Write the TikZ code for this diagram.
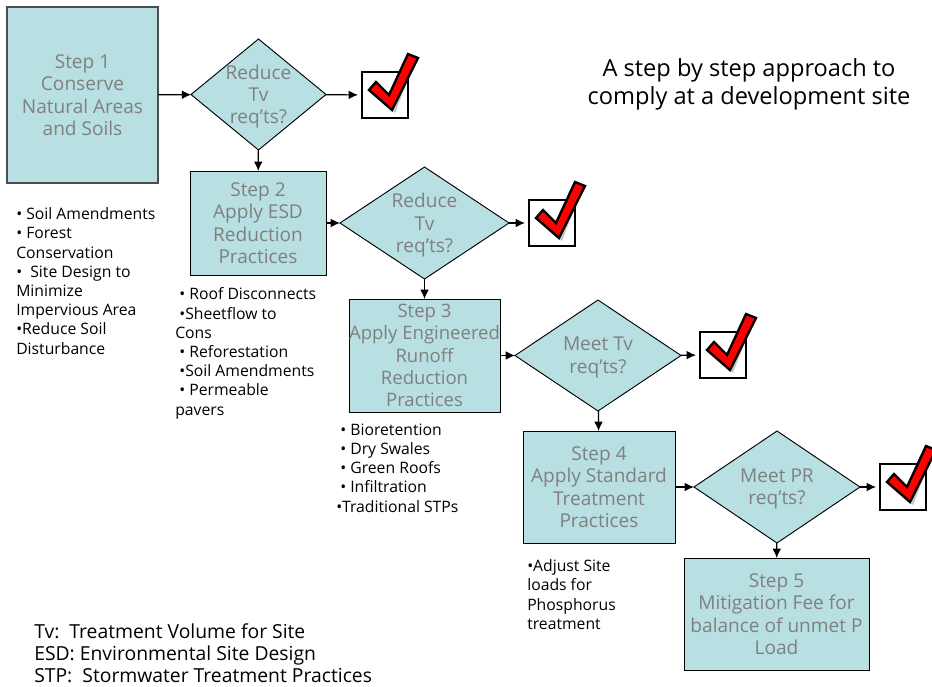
\documentclass[tikz,border=0pt]{standalone}
\usepackage{fontspec}
\setmainfont{Open Sans}
\usetikzlibrary{shapes.geometric,arrows.meta}
\definecolor{boxfill}{HTML}{B8DFE2}
\definecolor{steptxt}{HTML}{808080}
\tikzset{
  stepbox/.style={draw=black,line width=0.7pt,fill=boxfill,outer sep=0pt,inner sep=0pt,align=center,text=steptxt,font=\fontsize{14.3}{16.8}\selectfont},
  decbox/.style={diamond,draw=black,line width=0.7pt,fill=boxfill,outer sep=0pt,inner sep=0pt},
  dectext/.style={align=center,text=steptxt,yshift=-1.6pt,font=\fontsize{14.3}{16.8}\selectfont,inner sep=0pt},
  notes/.style={anchor=north west,align=left,inner sep=0pt,font=\fontsize{11.8}{14.4}\selectfont},
  legend/.style={anchor=north west,align=left,inner sep=0pt,font=\fontsize{14.5}{16.8}\selectfont},
  title/.style={align=center,inner sep=0pt,font=\fontsize{17.7}{21}\selectfont},
  checkbox/.style={draw=black,line width=1.9pt,fill=white,minimum size=34.5pt,outer sep=0pt,inner sep=0pt},
  flow/.style={draw=black,line width=0.9pt,-{Latex[length=7pt,width=6.5pt]}},
  tick/.pic={
    \fill[black!22] (10,21) -- (16,14) -- (30,28) -- (50,-15) -- (52,-8) -- (33,41) -- cycle;
    \draw[black,line width=1.8pt,fill=red,line join=miter] (7,18) -- (14,10) -- (27,23) -- (46,-18) -- (56,-14) -- (30,38) -- cycle;
  }
}
\begin{document}
\begin{tikzpicture}[x=0.75pt,y=-0.75pt]
\useasboundingbox (0,0) rectangle (932,686);
% boxes
\node[stepbox,draw=black!70,line width=1pt,minimum width=113.25pt,minimum height=132pt] (s1) at (82.5,95) {Step 1\\Conserve\\Natural Areas\\and Soils};
\node[stepbox,minimum width=102pt,minimum height=78pt] (s2) at (258,223) {Step 2\\Apply ESD\\Reduction\\Practices};
\node[stepbox,font=\fontsize{13.9}{16.8}\selectfont,minimum width=113.25pt,minimum height=84.75pt] (s3) at (424.5,355.5) {Step 3\\Apply Engineered\\Runoff\\Reduction\\Practices};
\node[stepbox,minimum width=114pt,minimum height=84pt] (s4) at (599,487) {Step 4\\Apply Standard\\Treatment\\Practices};
\node[stepbox,minimum width=138.75pt,minimum height=84pt] (s5) at (776.5,614) {Step 5\\Mitigation Fee for\\balance of unmet P\\Load};
% decisions
\node[decbox,minimum width=101.25pt,minimum height=83.25pt] (d1) at (258.5,94.5) {};
\node[dectext] at (d1) {Reduce\\Tv\\req’ts?};
\node[decbox,minimum width=126.75pt,minimum height=84pt] (d2) at (424.5,223) {};
\node[dectext] at (d2) {Reduce\\Tv\\req’ts?};
\node[decbox,minimum width=124.5pt,minimum height=83.25pt] (d3) at (598,355.5) {};
\node[dectext] at (d3) {Meet Tv\\req’ts?};
\node[decbox,minimum width=124.5pt,minimum height=84pt] (d4) at (777,487) {};
\node[dectext] at (d4) {Meet PR\\req’ts?};
% check boxes
\node[checkbox] (c1) at (385,95) {};
\node[checkbox] (c2) at (552,223) {};
\node[checkbox] (c3) at (723,355) {};
\node[checkbox] (c4) at (903,487) {};
\path (362,72) pic {tick} (529,200) pic {tick} (700,332) pic {tick} (880,464) pic {tick};
% connectors
\draw[flow] (s1) -- (d1);
\draw[flow] (s2) -- (d2);
\draw[flow] (s3) -- (d3);
\draw[flow] (s4) -- (d4);
\draw[flow] (d1) -- (s2);
\draw[flow] (d2) -- (s3);
\draw[flow] (d3) -- (s4);
\draw[flow] (d4) -- (s5);
\draw[flow,shorten >=3pt] (d1) -- (c1);
\draw[flow,shorten >=3pt] (d2) -- (c2);
\draw[flow,shorten >=3pt] (d3) -- (c3);
\draw[flow,shorten >=3pt] (d4) -- (c4);
% texts
\node[title] (t) at (749,84.5) {A step by step approach to\\comply at a development site};
\node[notes] (n1) at (16,207.5) {\textbullet\ Soil Amendments\\\textbullet\ Forest\\Conservation\\\textbullet\ \ Site Design to\\Minimize\\Impervious Area\\\textbullet Reduce Soil\\Disturbance};
\node[notes] (n2) at (175,287.5) {\ \textbullet\ Roof Disconnects\\\ \textbullet Sheetflow to\\Cons\\\ \textbullet\ Reforestation\\\ \textbullet Soil Amendments\\\ \textbullet\ Permeable\\pavers};
\node[notes] (n3) at (336,423.5) {\ \textbullet\ Bioretention\\\ \textbullet\ Dry Swales\\\ \textbullet\ Green Roofs\\\ \textbullet\ Infiltration\\\textbullet Traditional STPs};
\node[notes] (n4) at (527,559.5) {\textbullet Adjust Site\\loads for\\Phosphorus\\treatment};
\node[legend] (l) at (34,623) {Tv:\ \ Treatment Volume for Site\\ESD: Environmental Site Design\\STP:\ \ Stormwater Treatment Practices};
\end{tikzpicture}
\end{document}
